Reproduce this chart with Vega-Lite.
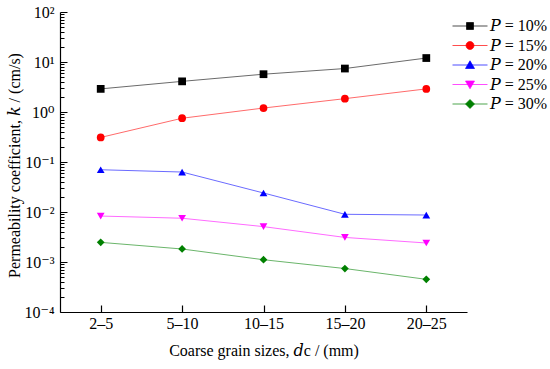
{
  "$schema": "https://vega.github.io/schema/vega-lite/v6.json",
  "autosize": "none",
  "padding": {"left": 60, "top": 12, "right": 83, "bottom": 57},
  "width": 407,
  "height": 300,
  "background": "white",
  "config": {
    "view": {"stroke": null},
    "font": "Liberation Serif, DejaVu Serif",
    "axis": {"labelFont": "Liberation Serif, DejaVu Serif", "titleFont": "Liberation Serif, DejaVu Serif", "labelColor": "#000", "titleColor": "#000", "domainColor": "#000", "tickColor": "#000", "titleFontWeight": "normal", "grid": false},
    "legend": {"labelFont": "Liberation Serif, DejaVu Serif", "labelFontSize": 16, "labelColor": "#000"}
  },
  "resolve": {"legend": {"color": "independent", "shape": "independent"}},
  "data": {"values": [
    {"size": "2–5", "P": "10%", "k": 2.9},
    {"size": "5–10", "P": "10%", "k": 4.1},
    {"size": "10–15", "P": "10%", "k": 5.7},
    {"size": "15–20", "P": "10%", "k": 7.4},
    {"size": "20–25", "P": "10%", "k": 12},
    {"size": "2–5", "P": "15%", "k": 0.31},
    {"size": "5–10", "P": "15%", "k": 0.75},
    {"size": "10–15", "P": "15%", "k": 1.2},
    {"size": "15–20", "P": "15%", "k": 1.85},
    {"size": "20–25", "P": "15%", "k": 2.9},
    {"size": "2–5", "P": "20%", "k": 0.07},
    {"size": "5–10", "P": "20%", "k": 0.063},
    {"size": "10–15", "P": "20%", "k": 0.024},
    {"size": "15–20", "P": "20%", "k": 0.009},
    {"size": "20–25", "P": "20%", "k": 0.0087},
    {"size": "2–5", "P": "25%", "k": 0.0083},
    {"size": "5–10", "P": "25%", "k": 0.0075},
    {"size": "10–15", "P": "25%", "k": 0.0051},
    {"size": "15–20", "P": "25%", "k": 0.0031},
    {"size": "20–25", "P": "25%", "k": 0.0024},
    {"size": "2–5", "P": "30%", "k": 0.00247},
    {"size": "5–10", "P": "30%", "k": 0.00182},
    {"size": "10–15", "P": "30%", "k": 0.00111},
    {"size": "15–20", "P": "30%", "k": 0.00074},
    {"size": "20–25", "P": "30%", "k": 0.00045}
  ]},
  "encoding": {
    "x": {
      "field": "size", "type": "ordinal", "sort": ["2–5", "5–10", "10–15", "15–20", "20–25"],
      "scale": {"type": "point", "padding": 0.5},
      "axis": {"title": "Coarse grain sizes, 𝑑c / (mm)", "labelAngle": 0, "labelFontSize": 16, "titleFontSize": 16, "tickSize": -7, "labelPadding": 10, "titlePadding": 11, "domainWidth": 1.2, "tickWidth": 1.2}
    },
    "y": {
      "field": "k", "type": "quantitative",
      "scale": {"type": "log", "domain": [0.0001, 100], "nice": false},
      "axis": {
        "title": "Permeability coefficient, 𝑘 / (cm/s)",
        "titleFontSize": 16, "labelFontSize": 16,
        "values": [0.0001,0.0002,0.0003,0.0004,0.0005,0.0006,0.0007,0.0008,0.0009,0.001,0.002,0.003,0.004,0.005,0.006,0.007,0.008,0.009,0.01,0.02,0.03,0.04,0.05,0.06,0.07,0.08,0.09,0.1,0.2,0.3,0.4,0.5,0.6,0.7,0.8,0.9,1,2,3,4,5,6,7,8,9,10,20,30,40,50,60,70,80,90,100],
        "labelOverlap": false,
        "labelExpr": "abs(log(datum.value)/LN10 - round(log(datum.value)/LN10)) > 0.001 ? '' : datum.value > 50 ? '10²' : datum.value > 5 ? '10¹' : datum.value > 0.5 ? '10⁰' : datum.value > 0.05 ? '10⁻¹' : datum.value > 0.005 ? '10⁻²' : datum.value > 0.0005 ? '10⁻³' : '10⁻⁴'",
        "tickSize": {"expr": "abs(log(datum.value)/LN10 - round(log(datum.value)/LN10)) > 0.001 ? -4 : -7"},
        "labelPadding": 13,
        "titleX": -46, "titleY": 153, "titleAngle": -90, "titleBaseline": "middle",
        "domainWidth": 1.2, "tickWidth": 1
      }
    },
    "color": {
      "field": "P", "type": "nominal",
      "scale": {"domain": ["10%", "15%", "20%", "25%", "30%"], "range": ["#000000", "#ff0000", "#0000ff", "#ff00ff", "#008000"]}
    }
  },
  "layer": [
    {
      "mark": {"type": "line", "strokeWidth": 0.9, "strokeOpacity": 0.65},
      "encoding": {
        "color": {
          "field": "P", "type": "nominal",
          "legend": {
            "title": null, "orient": "none", "legendX": 402, "legendY": 6, "padding": 0,
            "labelFont": "Liberation Serif, DejaVu Serif", "labelFontSize": 16, "labelColor": "#000",
            "labelExpr": "'𝑃 = ' + datum.label",
            "symbolSize": 100, "labelOffset": 12, "rowPadding": 3.5,
            "encode": {
              "labels": {"update": {"font": {"value": "Liberation Serif, DejaVu Serif"}}},
              "symbols": {"update": {
                "shape": {"signal": "datum.value == '10%' ? 'M-3.5,0H3.5M-0.7,-0.7H0.7V0.7H-0.7Z' : datum.value == '15%' ? 'M-3.5,0H3.5M-0.8,0A0.8,0.8 0 1,0 0.8,0A0.8,0.8 0 1,0 -0.8,0Z' : datum.value == '20%' ? 'M-3.5,0H3.5M0,-0.85L0.9,0.7L-0.9,0.7Z' : datum.value == '25%' ? 'M-3.5,0H3.5M0,0.85L0.9,-0.7L-0.9,-0.7Z' : 'M-3.5,0H3.5M0,-0.9L0.9,0L0,0.9L-0.9,0Z'"},
                "fill": {"scale": "color", "field": "value"},
                "stroke": {"scale": "color", "field": "value"},
                "strokeWidth": {"value": 0.7},
                "opacity": {"value": 1}
              }}
            }
          }
        }
      }
    },
    {
      "mark": {"type": "point", "filled": true, "opacity": 1, "size": 60},
      "encoding": {
        "color": {"field": "P", "type": "nominal", "legend": null},
        "shape": {
          "field": "P", "type": "nominal", "legend": null,
          "scale": {"domain": ["10%", "15%", "20%", "25%", "30%"], "range": ["square", "circle", "triangle-up", "triangle-down", "diamond"]}
        }
      }
    }
  ]
}
